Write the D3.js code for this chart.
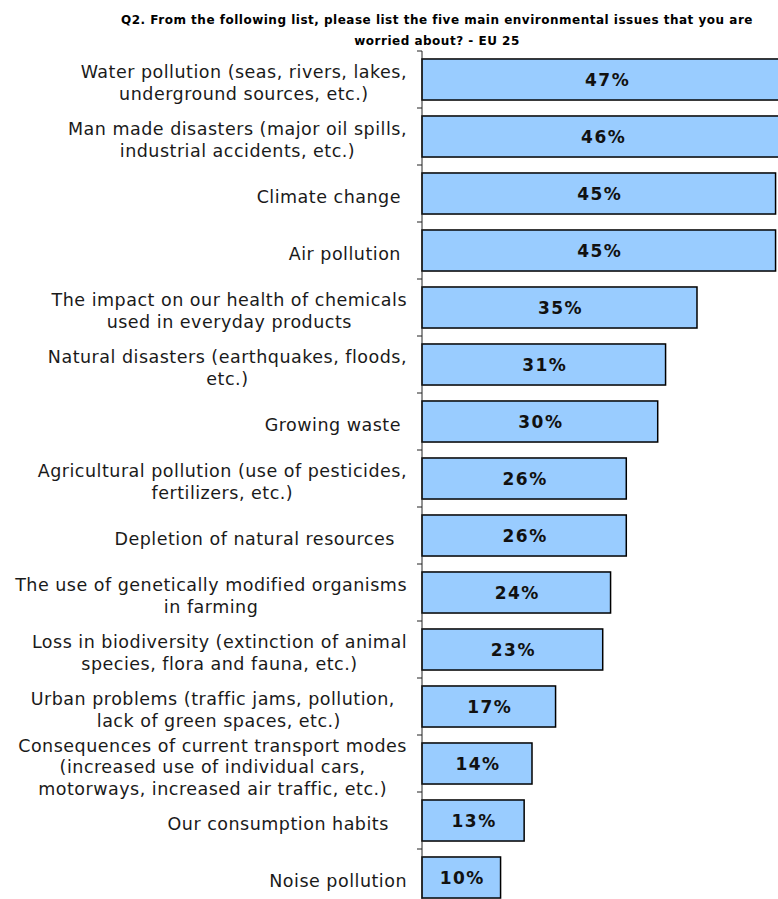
<!DOCTYPE html>
<html>
<head>
<meta charset="utf-8">
<script src="https://cdn.jsdelivr.net/npm/d3@7"></script>
<style>
  html, body { margin: 0; padding: 0; background: #fff; }
  svg { display: block; }
  text { white-space: pre; }
</style>
</head>
<body>
<svg id="chart" width="778" height="899"></svg>
<script>
const titleLines = [
  "Q2. From the following list, please list the five main environmental issues that you are",
  "worried about? - EU 25"
];
const categories = [
  "Water pollution (seas, rivers, lakes,\nunderground sources, etc.)",
  "Man made disasters (major oil spills,\nindustrial accidents, etc.)",
  "Climate change ",
  "Air pollution ",
  "The impact on our health of chemicals\nused in everyday products",
  "Natural disasters (earthquakes, floods,\netc.)",
  "Growing waste ",
  "Agricultural pollution (use of pesticides,\nfertilizers, etc.)",
  "Depletion of natural resources  ",
  "The use of genetically modified organisms\nin farming",
  "Loss in biodiversity (extinction of animal\nspecies, flora and fauna, etc.)",
  "Urban problems (traffic jams, pollution,  \nlack of green spaces, etc.)",
  "Consequences of current transport modes\n(increased use of individual cars,\nmotorways, increased air traffic, etc.)",
  "Our consumption habits   ",
  "Noise pollution"
];
const values = [47, 46, 45, 45, 35, 31, 30, 26, 26, 24, 23, 17, 14, 13, 10];
const valueLabels = values.map(v => v + "%");

const svg = d3.select("#chart");
const axisX = 422;

const x = d3.scaleLinear().domain([0, 50]).range([axisX, axisX + 50 * 7.857]);
const y = d3.scaleBand()
  .domain(d3.range(categories.length))
  .range([51, 906])
  .paddingInner(0.28)
  .paddingOuter(0.14);

// Title
svg.append("g").selectAll("text")
  .data(titleLines)
  .join("text")
  .attr("x", 437)
  .attr("y", (d, i) => 24 + i * 21)
  .attr("text-anchor", "middle")
  .attr("font-family", "DejaVu Sans, Verdana, sans-serif")
  .attr("font-weight", "bold")
  .attr("font-size", "12px")
  .attr("letter-spacing", "0.5px")
  .attr("fill", "#000")
  .text(d => d);

// Bars
svg.append("g").selectAll("rect")
  .data(values)
  .join("rect")
  .attr("x", x(0))
  .attr("y", (d, i) => y(i))
  .attr("width", d => x(d) - x(0))
  .attr("height", y.bandwidth())
  .attr("fill", "#99CCFF")
  .attr("stroke", "#000")
  .attr("stroke-width", 1.5);

// Axis line & ticks
const step = y.step();
const r0 = y.range()[0];
const axisG = svg.append("g");
axisG.append("line")
  .attr("x1", axisX).attr("x2", axisX)
  .attr("y1", r0).attr("y2", y.range()[1])
  .attr("stroke", "#222").attr("stroke-width", 1);
axisG.selectAll("line.tick")
  .data(d3.range(categories.length + 1))
  .join("line")
  .attr("class", "tick")
  .attr("x1", axisX - 5).attr("x2", axisX)
  .attr("y1", i => r0 + i * step).attr("y2", i => r0 + i * step)
  .attr("stroke", "#222").attr("stroke-width", 1);

// Value labels
svg.append("g").selectAll("text")
  .data(values)
  .join("text")
  .attr("x", d => (x(0) + x(d)) / 2 + 1)
  .attr("y", (d, i) => y(i) + y.bandwidth() / 2 + 6.5)
  .attr("text-anchor", "middle")
  .attr("font-family", "DejaVu Sans, Verdana, sans-serif")
  .attr("font-weight", "bold")
  .attr("font-size", "17px")
  .attr("letter-spacing", "1.5px")
  .attr("fill", "#111")
  .text((d, i) => valueLabels[i]);

// Category labels
const rightEdge = 407;
const lh = 21.5;
const labelG = svg.append("g");
categories.forEach((cat, i) => {
  const lines = cat.split("\n");
  const cy = y(i) + y.bandwidth() / 2;
  const t = labelG.append("text")
    .attr("font-family", "DejaVu Sans, Verdana, sans-serif")
    .attr("font-size", "17.5px")
    .attr("letter-spacing", "0.5px")
    .attr("fill", "#1a1a1a")
    .attr("text-anchor", "middle");
  const tspans = lines.map((ln, j) =>
    t.append("tspan")
      .attr("y", cy + (j - (lines.length - 1) / 2) * lh + 9.5)
      .text(ln)
  );
  const maxW = d3.max(tspans, s => s.node().getComputedTextLength());
  tspans.forEach(s => s.attr("x", rightEdge - maxW / 2));
});
</script>
</body>
</html>
